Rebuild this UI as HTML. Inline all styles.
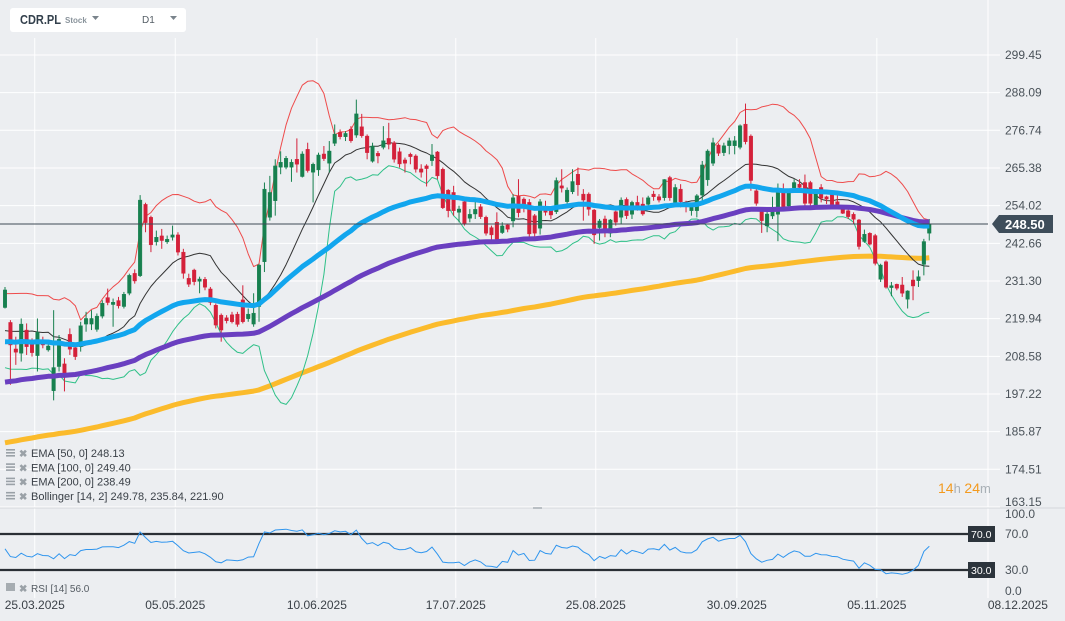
<!DOCTYPE html>
<html><head><meta charset="utf-8"><style>
html,body{margin:0;padding:0;width:1065px;height:621px;overflow:hidden;background:#eceef1;font-family:"Liberation Sans",sans-serif}
svg{display:block}
</style></head><body>
<svg id="chart" width="1065" height="621" viewBox="0 0 1065 621">
<rect x="0" y="0" width="1065" height="621" fill="#eceef1"/>
<g id="grid"></g>
<g id="price"></g>
<g id="rsi"></g>
<g id="axes"></g>
<g>
<rect x="10" y="8" width="176" height="24" rx="3" fill="#ffffff"/>
<text x="20" y="24" font-size="13" font-weight="bold" fill="#33404c" textLength="41" lengthAdjust="spacingAndGlyphs">CDR.PL</text>
<text x="65" y="23" font-size="8" font-weight="bold" fill="#8a949c">Stock</text>
<path d="M92 16 L99 16 L95.5 20 Z" fill="#7a848c"/>
<text x="142" y="23" font-size="10" fill="#555e66">D1</text>
<path d="M170 16 L177 16 L173.5 20 Z" fill="#7a848c"/>
</g>
<g>
<text x="938" y="493" font-size="14" fill="#f39a1e">14<tspan fill="#a9b0b6" font-size="13">h </tspan>24<tspan fill="#a9b0b6" font-size="13">m</tspan></text>
</g>
</svg>
<script>
// ---- data ----
const opens=[223.3,218.8,210.8,209.5,216.5,212.2,208.8,213,210.5,198.2,205.5,206.3,215.2,211.2,211.5,218.3,218.3,216.7,220.7,226.3,224.2,225.4,223.6,227.6,233.6,232.9,254.4,250.5,243.1,244.9,243.1,244.5,245.2,240,232.1,234.6,
231.2,231.8,228.9,224,221,220.2,221.1,221.3,225.6,219.9,218.3,223.6,237.1,250.5,255.5,265.6,265.6,265.6,268,262.8,271,264.1,264.8,269.6,266.8,272.8,276.1,274.8,277.1,275.3,277.8,275,267.4,269.8,271.6,
274.3,273,270.3,267.8,269.5,269,265.1,266,267.6,270.2,265,258.7,258,252,255.2,250.2,251.5,253.7,250.5,247.4,249,245.9,248.2,249.4,256.9,256,255,251,247.2,253.5,253.2,252.2,260,255.2,258.2,
263.5,257.5,257.5,252.7,247.4,250,245.7,252.2,250.5,255.9,251.4,255,254.5,254.4,257.5,256.7,256.4,262.5,255,259,254.2,252.5,252.5,257.2,261.8,266.8,272.3,270,272.1,272.1,271.6,278.6,275,258.5,252.2,
247.9,250.9,251.4,257.9,253.9,259.4,260.5,261,261,254.2,259.5,256.7,257.4,255.2,253.2,252.5,251.4,249.7,243.2,245.7,245,231.8,237.1,229.3,230.3,230.1,225.8,231.6,231.4,236.3,245.7];
const highs=[229.5,219.5,214.5,220,218.5,214,220,214.5,213,222.5,215,208,217,212,219,222,222.5,221.5,225.5,229,226,226.5,228,233.5,234.8,257.2,254.9,251,246.5,247,245,248,246,241,233.5,235,
232.6,232.5,229.5,224.5,221.5,221,222,222,230,223,227.6,236.5,261,263,268,270.4,269,268,274.3,270.4,273,267,270,272,273.5,278.5,277,276.5,278,286,281.7,275.5,273,270.5,278,
279,273.5,271.5,268.5,270,269.5,266.5,266.5,272.6,270.5,265.5,259,260,254,255.5,253,255.5,254.5,251,248,252,249,248.5,257.5,262,256.5,256,251.5,256,255.5,253.5,262.5,265,259.5,265,
265.5,259,258,253,250,251,250,252.5,256.5,256.5,255.5,257,256.5,257,258.5,257.5,262,263,260.5,260.5,255.5,254.5,257.5,267.5,271,274.5,272.8,273,274.5,275,278.5,284.8,275.5,259,253,
253,256.7,260.7,260.7,258.5,262,262,263.4,261.5,258,260.5,257,258,257.5,254,253,252,250,246.8,246,245.5,236.5,237.5,231,230.5,232.5,228.5,234.5,234.5,244,250];
const lows=[223,200,206,207,209,208.5,204,211,210,195.3,204,198,209,207.5,210,216,216.5,216,220,224,217.5,223,223,227,230.5,232.5,246,240,242,241,242.5,243.5,239,232,229.5,230,
227.6,228.5,224,217,213,218.5,218.5,217.5,218.5,219,217.5,219,234,249.5,251,263.5,265,261.2,264,262.5,264,255,263,267.5,264,272,274,273.5,273,274.5,274.5,268,267,266.8,271,
271,267,265.5,264,266.5,264,262.5,259.8,266,262,253,250.5,251,249,248,249,250,250,245,242.5,243,245.5,246,247.5,250.5,252,244.5,243.5,245.3,251,250,251.5,258,254,257.5,
257,249.5,251,242.5,243.5,244.5,244.5,248,248.5,250,250,252.5,251,253.5,255.5,255,255.5,255.5,254.5,253.5,252,251,250.5,255,260,266,269,269,269.5,269.5,271,272.5,258.5,254,245.8,
246,250,243.3,253,253,258,258,254,254,253.5,255,254.5,254,253.5,251.5,250,248.5,240.8,242.8,242,236,231,229,226.7,228.5,226.5,223,225.5,229.5,233,243.5];
const closes=[228.6,212.0,209.8,218.3,211.5,209.7,215.8,212,211.7,205.2,213.7,203.5,210.7,208.5,217.8,220,220,220.7,224.6,224.8,224.9,223.8,227.3,233,231.3,255.7,248.9,242.2,244.5,243.5,243.9,245.2,240,233.6,230.3,231.1,
231.9,229.4,224.8,218,216.5,219.3,219,218.2,219,221.3,221.6,236.1,259,258,266,267.1,268.3,267.1,266.5,269.6,264.6,266.5,269.3,268.2,270.5,275.6,274.8,275.8,273.6,281.7,275.1,270,272,269,273.6,
272.5,268,266.6,266.8,268.8,265,264.1,265.2,269.3,263,253.4,252.5,252.5,253,248.7,251.4,252.9,250.7,245.7,245.2,243.9,247.9,246.9,256.4,251.9,253.5,245.5,245.7,255.2,252,251.2,261.6,259.3,258.7,261.3,
260.3,255.7,252.9,245.2,249.4,246.9,249.7,249,255.7,251,255,253.5,251.5,256.4,256.7,255.7,261.9,256.4,259.5,255.2,253.9,253.9,257,266.3,270.5,273,269.8,272.1,273.6,273.6,278.1,273.3,261.6,254.7,249.5,
251.5,252.4,257.9,253.7,257.9,261,259.5,254.7,254.7,257.7,256.2,256,254.4,254.2,251.7,250.7,249.9,241.7,245.4,242.4,236.6,236.1,229.4,229.9,229.1,227.6,228.3,229.8,232.6,243.2,248.5];
// closes before first visible candle (for Bollinger / RSI warm-up)
const priorCloses=[222,215,210,218,212,208,220,214,211,224,216,212,219,221];
// EMA starting values read from the left edge
const emaSeeds=[213.0,200.8,182.5];
const emaPeriods=[50,100,200];
const priceTicks=[299.45,288.09,276.74,265.38,254.02,242.66,231.30,219.94,208.58,197.22,185.87,174.51,163.15];
const rsiTicks=[100,70,30,0];
const dateLabels=["25.03.2025","05.05.2025","10.06.2025","17.07.2025","25.08.2025","30.09.2025","05.11.2025","08.12.2025"];
const dateIdx=[5.5,31.5,57.7,83.4,109.3,135.4,161.3,187.4];
const legendTexts=["EMA [50, 0] 248.13","EMA [100, 0] 249.40","EMA [200, 0] 238.49","Bollinger  [14, 2] 249.78,  235.84,  221.90"];
const rsiLegendValue=56.0;

// ---- scales ----
const NS="http://www.w3.org/2000/svg";
const X0=5,STEP=5.405,PLOT_R=988;
const xAt=i=>X0+i*STEP;
const yP=p=>55+(299.45-p)*3.316;
const yR=r=>597-r*0.9;
function mk(tag,attrs,parent){const e=document.createElementNS(NS,tag);for(const k in attrs)e.setAttribute(k,attrs[k]);parent.appendChild(e);return e;}
const grid=document.getElementById('grid'),price=document.getElementById('price'),rsiG=document.getElementById('rsi'),axes=document.getElementById('axes');

const defs=mk('defs',{},document.getElementById('chart'));
const cp=mk('clipPath',{id:'pclip'},defs);mk('rect',{x:0,y:38,width:PLOT_R,height:468},cp);
price.setAttribute('clip-path','url(#pclip)');

priceTicks.forEach(t=>{const l=mk('line',{x1:0,x2:1000,y1:yP(t),y2:yP(t),stroke:'#ffffff','stroke-width':1},grid);

});
dateIdx.forEach(d=>{const x=xAt(d);if(x<PLOT_R){const l=mk('line',{x1:x,x2:x,y1:38,y2:598,stroke:'#ffffff','stroke-width':1},grid);

}});
mk('line',{x1:PLOT_R,x2:PLOT_R,y1:0,y2:598,stroke:'#ffffff','stroke-width':1},grid);
mk('line',{x1:0,x2:1065,y1:508,y2:508,stroke:'#d3d7db','stroke-width':1},grid);
mk('rect',{x:533,y:507,width:9,height:2,fill:'#b9bfc4'},grid);

const all=priorCloses.concat(closes),P=priorCloses.length;
const bbU=[],bbM=[],bbL=[];
for(let i=0;i<closes.length;i++){const w=all.slice(P+i-13,P+i+1);const m=w.reduce((a,b)=>a+b,0)/w.length;
const sd=Math.sqrt(w.reduce((a,b)=>a+(b-m)*(b-m),0)/w.length);bbM.push(m);bbU.push(m+2*sd);bbL.push(m-2*sd);}
const emas=emaPeriods.map((n,k)=>{const a=2/(n+1);let v=emaSeeds[k];return closes.map((c,i)=>{if(i>0)v=v+a*(c-v);return v;});});
function poly(arr,yf){return arr.map((v,i)=>(i?'L':'M')+xAt(i).toFixed(1)+' '+yf(v).toFixed(1)).join(' ');}

const lines=[[emas[2],'#fbbb2c',5,'ema-200-line'],[bbU,'#ee4b4b',1,'bollinger-upper'],[bbL,'#2fc088',1,'bollinger-lower'],[bbM,'#333333',1,'bollinger-middle'],[emas[1],'#6a3fc0',5,'ema-100-line'],[emas[0],'#12a6ee',5,'ema-50-line']];
function drawLine(L){const p=mk('path',{d:poly(L[0],yP),fill:'none',stroke:L[1],'stroke-width':L[2],'stroke-linejoin':'round'},price);

}
lines.slice(0,4).forEach(drawLine);

for(let i=0;i<closes.length;i++){const up=closes[i]>=opens[i];const col=up?'#17804f':'#d4213a';const x=xAt(i);
const g=mk('g',{},price);


mk('line',{x1:x,x2:x,y1:yP(highs[i]),y2:yP(lows[i]),stroke:col,'stroke-width':1},g);
const t=yP(Math.max(opens[i],closes[i])),b=yP(Math.min(opens[i],closes[i]));
mk('rect',{x:x-1.8,y:t,width:3.6,height:Math.max(1,b-t),fill:col,stroke:col,'stroke-width':0.4},g);}
lines.slice(4).forEach(drawLine);

const lp=closes[closes.length-1];
const pl=mk('line',{x1:0,x2:PLOT_R,y1:yP(lp),y2:yP(lp),stroke:'#3e4a55','stroke-width':1},axes);


const ly=yP(lp);
const tag=mk('path',{d:`M992 ${ly} L999 ${ly-9} L1053 ${ly-9} L1053 ${ly+9} L999 ${ly+9} Z`,fill:'#3e4d5a'},axes);


const tt=mk('text',{x:1005,y:ly+5,'font-size':13,'font-weight':'bold',fill:'#ffffff'},axes);tt.textContent=lp.toFixed(2);



priceTicks.forEach(t=>{if(Math.abs(yP(t)-ly)<10)return;const y=Math.min(yP(t),502);
const e=mk('text',{x:1005,y:y+4,'font-size':12,fill:'#4a5259'},axes);e.textContent=t.toFixed(2);

});

legendTexts.forEach((s,i)=>{const y=453+i*14.3;const g=mk('g',{},axes);


mk('rect',{x:6,y:y-4,width:9,height:1.6,fill:'#9aa1a7'},g);mk('rect',{x:6,y:y-1,width:9,height:1.6,fill:'#9aa1a7'},g);mk('rect',{x:6,y:y+2,width:9,height:1.6,fill:'#9aa1a7'},g);
const x=mk('text',{x:19,y:y+4,'font-size':10,'font-weight':'bold',fill:'#9aa1a7'},g);x.textContent='✖';
const e=mk('text',{x:31,y:y+4,'font-size':11,fill:'#3a4047'},g);e.textContent=s;});

let ag=0,al=0;
for(let i=1;i<P;i++){const d=all[i]-all[i-1];ag+=Math.max(d,0);al+=Math.max(-d,0);}ag/=13;al/=13;
const rsiVals=[];
for(let i=P;i<all.length;i++){const d=all[i]-all[i-1];ag=(ag*13+Math.max(d,0))/14;al=(al*13+Math.max(-d,0))/14;rsiVals.push(100-100/(1+ag/(al||1e-9)));}
[70,30].forEach(v=>{const l=mk('line',{x1:0,x2:968,y1:yR(v),y2:yR(v),stroke:'#2a2f35','stroke-width':2.2},rsiG);


mk('rect',{x:968,y:yR(v)-8,width:27,height:16,fill:'#2c343c'},rsiG);
const t=mk('text',{x:971,y:yR(v)+4,'font-size':10.5,fill:'#ffffff'},rsiG);t.textContent=v.toFixed(1);

});
const rl=mk('path',{d:poly(rsiVals,yR),fill:'none',stroke:'#2f95ee','stroke-width':1},rsiG);


rsiTicks.forEach(t=>{const y=Math.min(Math.max(yR(t),514),591);const e=mk('text',{x:1005,y:y+4,'font-size':12,fill:'#4a5259'},axes);e.textContent=t.toFixed(1);

});
const rg=mk('g',{},axes);


mk('rect',{x:6,y:583,width:9,height:8,fill:'#a6acb1'},rg);
const rx=mk('text',{x:19,y:592,'font-size':10,'font-weight':'bold',fill:'#9aa1a7'},rg);rx.textContent='✖';
const rt=mk('text',{x:31,y:592,'font-size':10,fill:'#555c63'},rg);rt.textContent='RSI [14] '+rsiLegendValue.toFixed(1);

dateLabels.forEach((s,i)=>{const e=mk('text',{x:xAt(dateIdx[i]),y:609,'font-size':12,fill:'#3a4047','text-anchor':'middle'},axes);e.textContent=s;

});
</script>
</body></html>
